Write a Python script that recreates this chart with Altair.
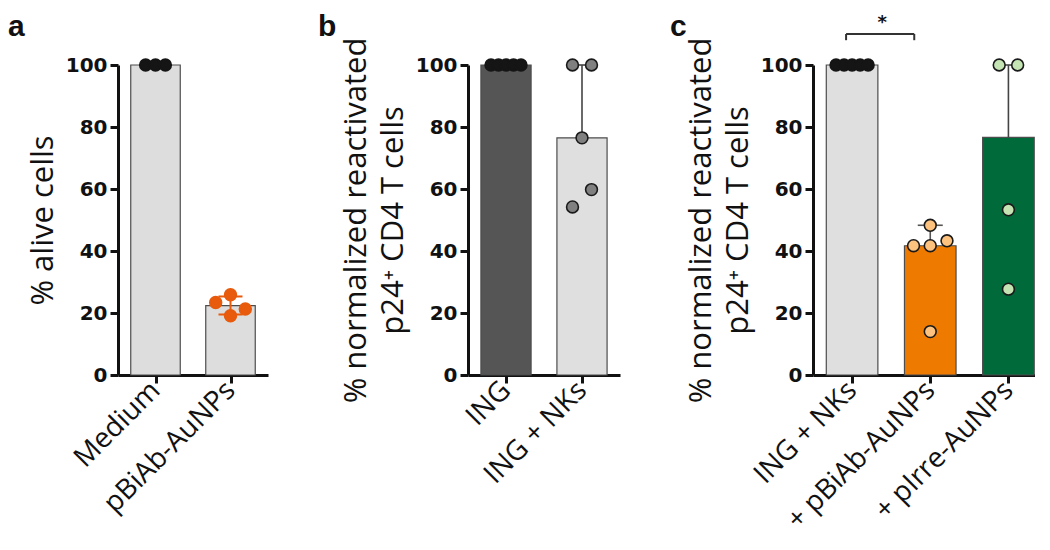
import json
import altair as alt
import pandas as pd

# ---------------- data ----------------
a_groups = ["Medium", "pBiAb-AuNPs"]
a_medium = [100, 100, 100]
a_pbiab = [25.9, 23.4, 21.3, 19.1]
a_medium_jitter = [-10, 0, 10]
a_pbiab_jitter = [0, -15, 15, 0]

b_groups = ["ING", "ING + NKs"]
b_ing = [100, 100, 100, 100, 100]
b_ing_nks = [100, 100, 76.5, 59.8, 54.2]
b_ing_jitter = [-15, -7.5, 0, 7.5, 15]
b_ing_nks_jitter = [-9.5, 9.5, 0, 9.5, -9.5]

c_groups = ["ING + NKs", "+ pBiAb-AuNPs", "+ pIrre-AuNPs"]
c_ing_nks = [100, 100, 100, 100, 100]
c_pbiab = [48.3, 41.7, 41.7, 43.3, 14.0]
c_pirre = [100, 100, 53.3, 27.7]
c_ing_nks_jitter = [-16, -8, 0, 8, 16]
c_pbiab_jitter = [0, -16.7, 0, 16.7, 0]
c_pirre_jitter = [-9.2, 9.2, 0, 0]

y_ticks = [0, 20, 40, 60, 80, 100]
a_title = "% alive cells"
bc_title = ["% normalized reactivated", "p24\u207a CD4 T cells"]
sig_pair = ["ING + NKs", "+ pBiAb-AuNPs"]
sig_label = "*"
sig_level = 110

INK = "#111111"
H = 310
BAR_HALF = 0.33
CAP_HALF = 0.16


def make_df(groups, values, jitters):
    rows = []
    for i, (g, vals, jit) in enumerate(zip(groups, values, jitters)):
        for v, j in zip(vals, jit):
            rows.append({"group": g, "idx": i, "value": v, "jitter": j})
    return pd.DataFrame(rows)


def x_axis(groups):
    return alt.Axis(
        title=None, values=list(range(len(groups))),
        labelExpr=json.dumps(groups) + "[datum.value]",
        labelAngle=-45, labelAlign="right", labelBaseline="middle",
        labelFont="Open Sans", labelFontSize=28, labelColor=INK, labelPadding=3,
        labelLimit=0,
        domainColor=INK, domainWidth=3, tickColor=INK, tickWidth=3, tickSize=8,
        grid=False, labelFlush=False, labelOverlap=False,
    )


def y_axis(title):
    return alt.Axis(
        values=y_ticks, title=title, titleFont="Open Sans", titleFontSize=31,
        titleFontWeight="normal", titleColor=INK, titlePadding=6, titleLineHeight=37,
        labelFont="DejaVu Sans", labelFontWeight="bold", labelFontSize=20,
        labelColor=INK, labelPadding=3, domainColor=INK, domainWidth=3,
        tickColor=INK, tickWidth=3, tickSize=8, grid=False,
    )


YS = alt.Scale(domain=[0, 100], nice=False, zero=False)


def panel(df, groups, styles, title, step, x_domain, letter, letter_dx,
          mean_sd_groups=()):
    XS = alt.Scale(domain=x_domain, nice=False, zero=False)
    xa = x_axis(groups)
    ya = y_axis(title)

    def X(f):
        return alt.X(f, type="quantitative", scale=XS, axis=xa)

    def Y(f):
        return alt.Y(f, type="quantitative", scale=YS, axis=ya)

    layers = []
    for g, (bar_c, dot_f, dot_s, err_c) in zip(groups, styles):
        sub = alt.Chart(df).transform_filter(alt.datum.group == g)
        med = sub.transform_aggregate(
            med="median(value)", mx="max(value)", m="mean(value)", sd="stdev(value)",
            groupby=["group", "idx"],
        ).transform_calculate(
            lo=f"datum.idx - {BAR_HALF}", hi=f"datum.idx + {BAR_HALF}",
            clo=f"datum.idx - {CAP_HALF}", chi=f"datum.idx + {CAP_HALF}",
            elo="datum.m - datum.sd", ehi="datum.m + datum.sd",
        )
        bar = med.mark_bar(fill=bar_c, stroke="#4d4d4d", strokeWidth=1.2).encode(
            x=X("lo"), x2="hi", y=Y("med"), y2=alt.datum(0))
        layers.append(bar)
        if g in mean_sd_groups:
            layers.append(med.mark_rule(color=err_c, strokeWidth=2).encode(
                x=X("idx"), y=Y("elo"), y2="ehi"))
            layers.append(med.mark_rule(color=err_c, strokeWidth=2).encode(
                x=X("clo"), x2="chi", y=Y("elo")))
            layers.append(med.mark_rule(color=err_c, strokeWidth=2).encode(
                x=X("clo"), x2="chi", y=Y("ehi")))
        else:
            layers.append(med.mark_rule(color=err_c, strokeWidth=1.6).encode(
                x=X("idx"), y=Y("med"), y2="mx"))
            layers.append(med.mark_rule(color=err_c, strokeWidth=1.6).encode(
                x=X("clo"), x2="chi", y=Y("mx")))
        dots = sub.transform_calculate(xp=f"datum.idx + datum.jitter / {step}").mark_circle(
            size=140, opacity=1, fill=dot_f, stroke=dot_s, strokeWidth=1.6
        ).encode(x=X("xp"), y=Y("value"))
        layers.append(dots)

    letter_layer = alt.Chart(pd.DataFrame({"t": [letter]})).mark_text(
        font="Liberation Sans", fontSize=30, fontWeight="bold", color=INK,
        align="left", baseline="alphabetic"
    ).encode(x=alt.value(letter_dx), y=alt.value(-29), text="t:N")
    layers.append(letter_layer)
    return layers, X, Y


df_a = make_df(a_groups, [a_medium, a_pbiab], [a_medium_jitter, a_pbiab_jitter])
df_b = make_df(b_groups, [b_ing, b_ing_nks], [b_ing_jitter, b_ing_nks_jitter])
df_c = make_df(c_groups, [c_ing_nks, c_pbiab, c_pirre],
               [c_ing_nks_jitter, c_pbiab_jitter, c_pirre_jitter])

a_styles = [("#dcdddc", "#151515", "#151515", "#151515"),
            ("#dcdddc", "#e85a0c", "#e85a0c", "#e85a0c")]
b_styles = [("#555555", "#151515", "#151515", "#151515"),
            ("#dedfde", "#808080", "#1a1a1a", "#444444")]
c_styles = [("#dedfde", "#151515", "#151515", "#151515"),
            ("#ee7a00", "#fcc27e", "#1a1a1a", "#555555"),
            ("#006a3b", "#c4e4b4", "#1a1a1a", "#444444")]

la, _, _ = panel(df_a, a_groups, a_styles, a_title, 76, [-0.5, 1.5], "a", -110,
                 mean_sd_groups=("pBiAb-AuNPs",))
pa = alt.layer(*la).properties(width=150, height=H)

lb, _, _ = panel(df_b, b_groups, b_styles, bc_title, 76, [-0.5, 1.5], "b", -150)
pb = alt.layer(*lb).properties(width=152, height=H)

lc, Xc, Yc = panel(df_c, c_groups, c_styles, bc_title, 78, [-0.5, 2.34], "c", -143)

i1, i2 = c_groups.index(sig_pair[0]), c_groups.index(sig_pair[1])
sig_df = pd.DataFrame({"x1": [i1], "x2": [i2], "y": [sig_level], "label": [sig_label]})
sig = alt.Chart(sig_df).transform_calculate(y0="datum.y - 2", yt="datum.y + 3.4",
                                            xm="(datum.x1 + datum.x2) / 2")
sig_h = sig.mark_rule(color="#333333", strokeWidth=2, xOffset=-6, x2Offset=-16).encode(
    x=Xc("x1"), x2="x2", y=Yc("y"))
sig_l = sig.mark_rule(color="#333333", strokeWidth=2, xOffset=-6).encode(
    x=Xc("x1"), y=Yc("y0"), y2="y")
sig_r = sig.mark_rule(color="#333333", strokeWidth=2, xOffset=-16).encode(
    x=Xc("x2"), y=Yc("y0"), y2="y")
sig_t = sig.mark_text(font="DejaVu Sans", fontWeight="bold", fontSize=18,
                      color=INK, baseline="middle", xOffset=-9).encode(
    x=Xc("xm"), y=Yc("yt"), text="label:N")

pc = alt.layer(*lc, sig_h, sig_l, sig_r, sig_t).properties(width=222, height=H)

chart = alt.hconcat(
    pa,
    alt.hconcat(pb, pc, spacing=193, bounds="flush"),
    spacing=200, bounds="flush",
).properties(padding={"left": 0, "top": 4, "right": 0, "bottom": 0}).configure_view(
    strokeWidth=0
)

chart.save("out.html", embed_options={"renderer": "svg", "actions": False})
